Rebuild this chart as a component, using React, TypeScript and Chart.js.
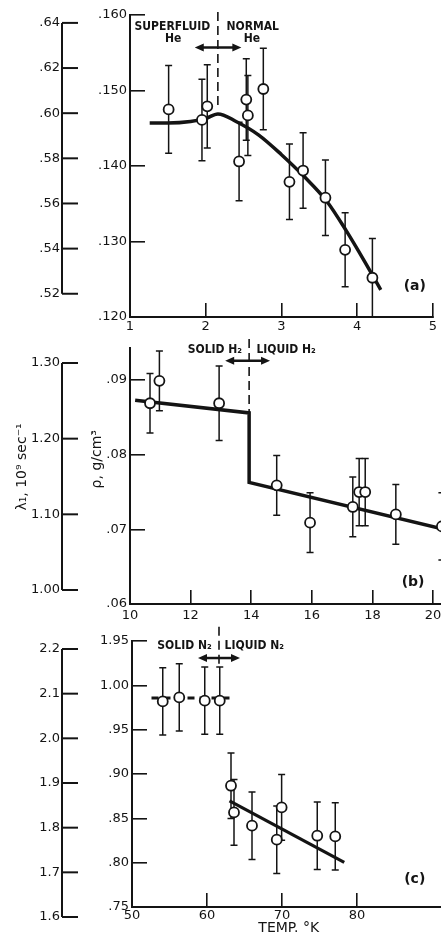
import React, { useEffect, useRef } from "react";
import { Chart, registerables } from "chart.js";

Chart.register(...registerables);

const INK = "#141414";
const FAMILY = "'DejaVu Sans', sans-serif";
const COND = "'DejaVu Sans Condensed', 'DejaVu Sans', sans-serif";

// ---------- Panel (a): helium ----------
const heTemp = [1.51, 1.95, 2.02, 2.44, 2.535, 2.556, 2.76, 3.105, 3.285, 3.58, 3.84, 4.2];
const heRho = [0.1475, 0.1461, 0.1479, 0.1406, 0.1488, 0.1467, 0.1502, 0.1379, 0.1394, 0.1358, 0.1289, 0.1252];
const heErr = [0.0058, 0.0054, 0.0055, 0.0052, 0.0054, 0.0053, 0.0054, 0.005, 0.005, 0.005, 0.0049, 0.0052];
const heCurveT = [1.26, 1.5, 1.8, 2.0, 2.16, 2.4, 2.7, 3.0, 3.3, 3.6, 3.85, 4.1, 4.31];
const heCurveRho = [0.1457, 0.1457, 0.1459, 0.1463, 0.1469, 0.1459, 0.1441, 0.1415, 0.1386, 0.1353, 0.1315, 0.1273, 0.1236];
const aXTicks = [1, 2, 3, 4, 5];
const aXLabels = ["1", "2", "3", "4", "5"];
const aYTicks = [0.12, 0.13, 0.14, 0.15, 0.16];
const aYLabels = [".120", ".130", ".140", ".150", ".160"];
const aLTicks = [0.52, 0.54, 0.56, 0.58, 0.6, 0.62, 0.64];
const aLLabels = [".52", ".54", ".56", ".58", ".60", ".62", ".64"];

// ---------- Panel (b): hydrogen ----------
const h2Temp = [10.66, 10.97, 12.94, 14.84, 15.94, 17.35, 17.56, 17.76, 18.77, 20.29];
const h2Rho = [0.0869, 0.0899, 0.0869, 0.0759, 0.0709, 0.073, 0.075, 0.075, 0.072, 0.0704];
const h2Err = [0.004, 0.004, 0.005, 0.004, 0.004, 0.004, 0.0045, 0.0045, 0.004, 0.0045];
const h2LineT = [10.17, 13.93, 13.93, 20.26];
const h2LineRho = [0.0873, 0.0856, 0.0763, 0.0701];
const bXTicks = [10, 12, 14, 16, 18, 20];
const bXLabels = ["10", "12", "14", "16", "18", "20"];
const bYTicks = [0.06, 0.07, 0.08, 0.09];
const bYLabels = [".06", ".07", ".08", ".09"];
const bLTicks = [1.0, 1.1, 1.2, 1.3];
const bLLabels = ["1.00", "1.10", "1.20", "1.30"];

// ---------- Panel (c): nitrogen ----------
const n2Temp = [54.1, 56.3, 59.7, 61.7, 63.2, 63.6, 66.0, 69.3, 69.95, 74.7, 77.1];
const n2Rho = [0.9819, 0.9864, 0.9827, 0.9827, 0.8868, 0.8567, 0.8417, 0.8259, 0.8623, 0.8304, 0.8296];
const n2Err = [0.038, 0.038, 0.038, 0.038, 0.037, 0.037, 0.038, 0.038, 0.037, 0.038, 0.038];
const n2LineT = [63.0, 78.3];
const n2LineRho = [0.8697, 0.8003];
const n2SolidT = [52.6, 63.0];
const n2SolidRho = [0.9857, 0.9857];
const cXTicks = [50, 60, 70, 80];
const cXLabels = ["50", "60", "70", "80"];
const cYTicks = [0.75, 0.8, 0.85, 0.9, 0.95, 1.0, 1.05];
const cYLabels = [".75", ".80", ".85", ".90", ".95", "1.00", "1.95"];
const cLTicks = [1.6, 1.7, 1.8, 1.9, 2.0, 2.1, 2.2];
const cLLabels = ["1.6", "1.7", "1.8", "1.9", "2.0", "2.1", "2.2"];

const decorPlugin = {
  id: "decor",
  beforeDatasetsDraw(chart: any, _a: any, opts: any) {
    const ctx = chart.ctx;
    const xs = chart.scales.x;
    const ys = chart.scales.y;
    ctx.save();
    ctx.strokeStyle = INK;
    const eb = opts.errorBars;
    ctx.lineWidth = 1.5;
    for (let i = 0; i < eb.x.length; i++) {
      const px = xs.getPixelForValue(eb.x[i]);
      const y1 = ys.getPixelForValue(eb.y[i] - eb.e[i]);
      const y2 = ys.getPixelForValue(eb.y[i] + eb.e[i]);
      ctx.beginPath();
      ctx.moveTo(px, y1);
      ctx.lineTo(px, y2);
      ctx.moveTo(px - 3.5, y1);
      ctx.lineTo(px + 3.5, y1);
      ctx.moveTo(px - 3.5, y2);
      ctx.lineTo(px + 3.5, y2);
      ctx.stroke();
    }
    const d = opts.divider;
    if (d) {
      const px = xs.getPixelForValue(d.x);
      ctx.setLineDash([9, 5]);
      ctx.lineWidth = 1.6;
      ctx.beginPath();
      ctx.moveTo(px, ys.getPixelForValue(d.y1));
      ctx.lineTo(px, ys.getPixelForValue(d.y2));
      ctx.stroke();
      ctx.setLineDash([]);
    }
    ctx.restore();
  },
  afterDraw(chart: any, _a: any, opts: any) {
    const ctx = chart.ctx;
    const xs = chart.scales.x;
    const ys = chart.scales.y;
    const ls = chart.scales.yL;
    ctx.save();
    ctx.strokeStyle = INK;
    ctx.fillStyle = INK;
    const o = opts.outer;
    const yTop = ls.getPixelForValue(o.ticks[o.ticks.length - 1]);
    const yBot = ls.getPixelForValue(o.ticks[0]);
    ctx.lineWidth = 2;
    ctx.beginPath();
    ctx.moveTo(o.x, yTop);
    ctx.lineTo(o.x, yBot);
    ctx.stroke();
    ctx.font = `13px ${FAMILY}`;
    ctx.textAlign = "right";
    ctx.textBaseline = "middle";
    for (let i = 0; i < o.ticks.length; i++) {
      const py = ls.getPixelForValue(o.ticks[i]);
      ctx.beginPath();
      ctx.moveTo(o.x, py);
      ctx.lineTo(o.x + 16, py);
      ctx.stroke();
      ctx.fillText(o.labels[i], o.x - 2, py);
    }
    const a = opts.arrow;
    if (a) {
      const py = ys.getPixelForValue(a.y);
      const x1 = xs.getPixelForValue(a.x1);
      const x2 = xs.getPixelForValue(a.x2);
      ctx.lineWidth = 2.5;
      ctx.beginPath();
      ctx.moveTo(x1 + 6, py);
      ctx.lineTo(x2 - 6, py);
      ctx.stroke();
      ctx.beginPath();
      ctx.moveTo(x1, py);
      ctx.lineTo(x1 + 9, py - 4);
      ctx.lineTo(x1 + 9, py + 4);
      ctx.closePath();
      ctx.moveTo(x2, py);
      ctx.lineTo(x2 - 9, py - 4);
      ctx.lineTo(x2 - 9, py + 4);
      ctx.closePath();
      ctx.fill();
    }
    ctx.textAlign = "center";
    ctx.textBaseline = "middle";
    for (const t of opts.texts) {
      ctx.font = t.font;
      ctx.fillText(t.text, xs.getPixelForValue(t.x), ys.getPixelForValue(t.y));
    }
    for (const t of opts.vtitles || []) {
      const sc = chart.scales[t.scale];
      ctx.save();
      ctx.translate(t.px, sc.getPixelForValue(t.y));
      ctx.rotate(-Math.PI / 2);
      ctx.font = t.font;
      ctx.fillText(t.text, 0, 0);
      ctx.restore();
    }
    ctx.restore();
  },
};

function pts(xs: number[], ys: number[]) {
  return xs.map((x, i) => ({ x, y: ys[i] }));
}

function makeConfig(p: any) {
  const lineSets = p.lines.map((l: any) => ({
    type: "line",
    data: pts(l.x, l.y),
    borderColor: INK,
    borderWidth: l.width,
    borderDash: l.dash || [],
    pointRadius: 0,
    fill: false,
    cubicInterpolationMode: l.mono ? "monotone" : "default",
    tension: 0,
    order: 1,
  }));
  return {
    type: "scatter",
    data: {
      datasets: [
        {
          type: "scatter",
          data: pts(p.px, p.py),
          pointRadius: 5,
          pointBackgroundColor: "#ffffff",
          pointBorderColor: INK,
          pointBorderWidth: 1.8,
          order: 0,
        },
        ...lineSets,
      ],
    },
    options: {
      responsive: false,
      animation: false,
      events: [],
      layout: { autoPadding: false, padding: { top: p.padTop, right: p.padRight, bottom: 0, left: 0 } },
      plugins: {
        legend: { display: false },
        tooltip: { enabled: false },
        decor: p.decor,
      },
      scales: {
        x: {
          type: "linear",
          position: "bottom",
          min: p.xMin,
          max: p.xMax,
          afterBuildTicks: (s: any) => {
            s.ticks = p.xTicks.map((v: number) => ({ value: v }));
          },
          ticks: {
            font: { family: FAMILY, size: 13 },
            color: INK,
            padding: p.xPad,
            autoSkip: false,
            maxRotation: 0,
            callback: (_v: any, i: number) => p.xLabels[i],
          },
          grid: { display: true, drawOnChartArea: false, drawTicks: true, tickLength: -14, color: INK, lineWidth: 1.6 },
          border: { display: true, color: INK, width: 2 },
          afterFit: (s: any) => {
            s.height = p.xHeight;
            s.paddingLeft = 0;
            s.paddingRight = 0;
          },
        },
        y: {
          type: "linear",
          position: "left",
          min: p.yMin,
          max: p.yMax,
          afterBuildTicks: (s: any) => {
            s.ticks = p.yTicks.map((v: number) => ({ value: v }));
          },
          ticks: {
            font: { family: FAMILY, size: 13 },
            color: INK,
            padding: 18,
            autoSkip: false,
            callback: (_v: any, i: number) => p.yLabels[i],
          },
          grid: { display: true, drawOnChartArea: false, drawTicks: true, tickLength: -15, color: INK, lineWidth: 1.6 },
          border: { display: true, color: INK, width: 2 },
          afterFit: (s: any) => {
            s.width = p.yWidth;
            s.paddingTop = 0;
            s.paddingBottom = 0;
          },
        },
        yL: { type: "linear", position: "left", display: false, min: p.lMin, max: p.lMax },
      },
    },
    plugins: [decorPlugin],
  };
}

const LABEL_FONT = `bold 12px ${COND}`;
const TAG_FONT = `bold 14px ${FAMILY}`;

const panels = [
  {
    top: 0,
    height: 338,
    padTop: 15,
    padRight: 8,
    xHeight: 21,
    xPad: 16,
    yWidth: 130,
    xMin: 1,
    xMax: 5,
    yMin: 0.12,
    yMax: 0.16,
    lMin: 0.5097,
    lMax: 0.6435,
    xTicks: aXTicks,
    xLabels: aXLabels,
    yTicks: aYTicks,
    yLabels: aYLabels,
    px: heTemp,
    py: heRho,
    lines: [{ x: heCurveT, y: heCurveRho, width: 3.5, mono: true }],
    decor: {
      errorBars: { x: heTemp, y: heRho, e: heErr },
      divider: { x: 2.16, y1: 0.1604, y2: 0.1475 },
      arrow: { y: 0.1557, x1: 1.855, x2: 2.47 },
      outer: { x: 62, ticks: aLTicks, labels: aLLabels },
      texts: [
        { text: "SUPERFLUID", x: 1.56, y: 0.1584, font: LABEL_FONT },
        { text: "He", x: 1.57, y: 0.1568, font: LABEL_FONT },
        { text: "NORMAL", x: 2.62, y: 0.1584, font: LABEL_FONT },
        { text: "He", x: 2.61, y: 0.1568, font: LABEL_FONT },
        { text: "(a)", x: 4.76, y: 0.124, font: TAG_FONT },
      ],
    },
  },
  {
    top: 338,
    height: 284,
    padTop: 10,
    padRight: 0,
    xHeight: 18,
    xPad: 18,
    yWidth: 130,
    xMin: 10,
    xMax: 20.26,
    yMin: 0.06,
    yMax: 0.0943,
    lMin: 0.9815,
    lMax: 1.3198,
    xTicks: bXTicks,
    xLabels: bXLabels,
    yTicks: bYTicks,
    yLabels: bYLabels,
    px: h2Temp,
    py: h2Rho,
    lines: [{ x: h2LineT, y: h2LineRho, width: 3.5 }],
    decor: {
      errorBars: { x: h2Temp, y: h2Rho, e: h2Err },
      divider: { x: 13.93, y1: 0.0955, y2: 0.0856 },
      arrow: { y: 0.0926, x1: 13.14, x2: 14.62 },
      outer: { x: 62, ticks: bLTicks, labels: bLLabels },
      texts: [
        { text: "SOLID H\u2082", x: 12.8, y: 0.0941, font: LABEL_FONT },
        { text: "LIQUID H\u2082", x: 15.15, y: 0.0941, font: LABEL_FONT },
        { text: "(b)", x: 19.34, y: 0.0629, font: TAG_FONT },
      ],
      vtitles: [
        { text: "\u03bb\u2081, 10\u2079 sec\u207b\u00b9", px: 22, scale: "yL", y: 1.1626, font: `14px ${FAMILY}` },
        { text: "\u03c1, g/cm\u00b3", px: 97, scale: "y", y: 0.0794, font: `14px ${FAMILY}` },
      ],
    },
  },
  {
    top: 622,
    height: 315,
    padTop: 19,
    padRight: 0,
    xHeight: 30,
    xPad: 15,
    yWidth: 132,
    xMin: 50,
    xMax: 91.2,
    yMin: 0.75,
    yMax: 1.05,
    lMin: 1.6224,
    lMax: 2.2179,
    xTicks: cXTicks,
    xLabels: cXLabels,
    yTicks: cYTicks,
    yLabels: cYLabels,
    px: n2Temp,
    py: n2Rho,
    lines: [
      { x: n2LineT, y: n2LineRho, width: 3.2 },
      { x: n2SolidT, y: n2SolidRho, width: 3, dash: [7, 5] },
    ],
    decor: {
      errorBars: { x: n2Temp, y: n2Rho, e: n2Err },
      divider: { x: 61.6, y1: 1.066, y2: 1.022 },
      arrow: { y: 1.0308, x1: 58.8, x2: 64.4 },
      outer: { x: 62, ticks: cLTicks, labels: cLLabels },
      texts: [
        { text: "SOLID N\u2082", x: 57.0, y: 1.0447, font: LABEL_FONT },
        { text: "LIQUID N\u2082", x: 66.3, y: 1.0447, font: LABEL_FONT },
        { text: "(c)", x: 87.7, y: 0.7809, font: TAG_FONT },
        { text: "TEMP. \u00b0K", x: 70.9, y: 0.7255, font: `14px ${FAMILY}` },
      ],
    },
  },
];

function Panel({ cfg }: { cfg: any }) {
  const ref = useRef<HTMLCanvasElement | null>(null);
  useEffect(() => {
    if (!ref.current) return;
    const chart = new Chart(ref.current, makeConfig(cfg) as any);
    return () => chart.destroy();
  }, [cfg]);
  return (
    <canvas
      ref={ref}
      width={441}
      height={cfg.height}
      style={{ position: "absolute", left: 0, top: cfg.top, width: 441, height: cfg.height, display: "block" }}
    />
  );
}

export default function App() {
  return (
    <div style={{ position: "fixed", left: 0, top: 0, width: 441, height: 937, background: "#ffffff", overflow: "hidden" }}>
      {panels.map((p, i) => (
        <Panel key={i} cfg={p} />
      ))}
    </div>
  );
}
